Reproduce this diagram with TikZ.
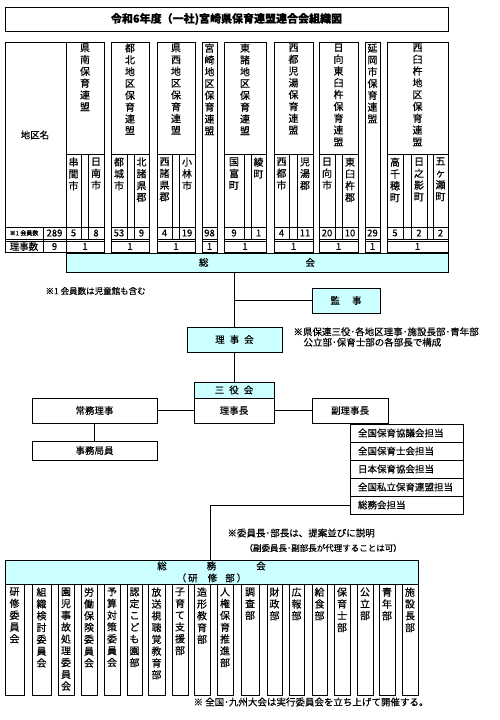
\documentclass[tikz,border=0pt]{standalone}
\usepackage{fontspec}
\setmainfont{Noto Sans CJK JP}[FakeBold=0.4]
\definecolor{kaiCyan}{RGB}{204,255,255}

\begin{document}
\begin{tikzpicture}[x=1pt, y=-1pt, line width=1pt,
  font=\fontsize{9.5}{11.8}\selectfont,
  bx/.style={draw, inner sep=0pt, minimum height=25pt},
  hd/.style={bx, fill=kaiCyan},
  vt/.style={anchor=north, align=center, inner sep=0pt, font=\fontsize{10}{11.8}\selectfont},
  nm/.style={inner sep=0pt, font=\fontsize{9.5}{10}\selectfont},
  note/.style={anchor=west, inner sep=0pt, align=left}]

  \useasboundingbox (0,0) rectangle (500,720);

  % title
  \node[bx, minimum width=443pt, minimum height=24pt,
        font=\fontsize{11}{13}\selectfont\bfseries] (title) at (226.5,19)
    {令和6年度（一社)宮崎県保育連盟連合会組織図};

  % head column of the table
  \draw (5,42) rectangle (66,252);
  \draw (5,227) -- (66,227) (5,239) -- (66,239) (5,241) -- (66,241) (43,227) -- (43,252);
  \node (chiku) at (35,135) {地区名};
  \node[inner sep=0pt, font=\fontsize{6}{6}\selectfont] (kaiinLbl) at (24,233) {※1 会員数};
  \node[nm] (kaiinAll) at (54.5,233) {289};
  \node[inner sep=0pt] (rijiLbl) at (24,246.5) {理事数};
  \node[nm] (rijiAll) at (54.5,246.5) {9};

  % districts
  \foreach \xa/\xb/\nm [count=\i] in {
    66/104/県\\南\\保\\育\\連\\盟,
    111/149/都\\北\\地\\区\\保\\育\\連\\盟,
    157/195/県\\西\\地\\区\\保\\育\\連\\盟,
    202/217/宮\\崎\\地\\区\\保\\育\\連\\盟,
    224/266/東\\諸\\地\\区\\保\\育\\連\\盟,
    274/313/西\\都\\児\\湯\\保\\育\\連\\盟,
    319/358/日\\向\\東\\臼\\杵\\保\\育\\連\\盟,
    365/380/延\\岡\\市\\保\\育\\連\\盟,
    387/448/西\\臼\\杵\\地\\区\\保\\育\\連\\盟}{
    \draw (\xa,42) rectangle (\xb,252);
    \draw (\xa,227) -- (\xb,227) (\xa,239) -- (\xb,239) (\xa,241) -- (\xb,241);
    \node[vt] (dist\i) at ({(\xa+\xb)/2},43) {\nm};
    \node[nm] (riji\i) at ({(\xa+\xb)/2},246.5) {1};
  }
  \foreach \xa/\xb in {66/104,111/149,157/195,224/266,274/313,319/358,387/448}
    \draw (\xa,154) -- (\xb,154);

  % towns and members
  \foreach \xa/\xb/\nm/\mb [count=\i] in {
    66/81/串\\間\\市/5,
    88/104/日\\南\\市/8,
    111/127/都\\城\\市/53,
    134/149/北\\諸\\県\\郡/9,
    157/172/西\\諸\\県\\郡/4,
    179/195/小\\林\\市/19,
    224/244/国\\富\\町/9,
    251/266/綾\\町/1,
    274/289/西\\都\\市/4,
    297/313/児\\湯\\郡/11,
    319/335/日\\向\\市/20,
    342/358/東\\臼\\杵\\郡/10,
    387/403/高\\千\\穂\\町/5,
    411/427/日\\之\\影\\町/2,
    433/448/五\\ヶ\\瀬\\町/2}{
    \draw (\xa,154) rectangle (\xb,239);
    \node[vt] (town\i) at ({(\xa+\xb)/2},157) {\nm};
    \node[nm] (kaiin\i) at ({(\xa+\xb)/2},233) {\mb};
  }
  \node[nm] (kaiinMiya) at (209.5,233) {98};
  \node[nm] (kaiinNobe) at (372.5,233) {29};

  % general meeting and board
  \node[hd, minimum width=382pt, minimum height=19pt] (soukai) at (257,262.5) {総\hspace{97pt}会};
  \node[note, font=\fontsize{8.5}{10}\selectfont] (noteKaiin) at (45,291) {※1 会員数は児童館も含む};
  \node[hd, minimum width=68pt] (kanji) at (346,300.5) {監\hspace{12pt}事};
  \node[hd, minimum width=95pt] (rijikai) at (234.5,339.5) {理\hspace{5pt}事\hspace{5pt}会};
  \node[note, font=\fontsize{9.5}{10.5}\selectfont] (noteRiji) at (293,337)
    {※県保連三役･各地区理事･施設長部･青年部\\\hspace{10pt}公立部･保育士部の各部長で構成};

  \node[hd, minimum width=80pt, minimum height=16pt] (sanyaku) at (234,390) {三\hspace{5pt}役\hspace{5pt}会};
  \node[bx, minimum width=80pt] (rijicho) at (234,410.5) {理事長};
  \node[bx, minimum width=125pt] (jomu) at (94.5,410.5) {常務理事};
  \node[bx, minimum width=125pt, minimum height=19pt] (jimu) at (94.5,450.5) {事務局員};
  \node[bx, minimum width=76pt] (fukuriji) at (350,410.5) {副理事長};
  \foreach \t [count=\i] in {全国保育協議会担当,全国保育士会担当,日本保育協会担当,全国私立保育連盟担当,総務会担当}
    \node[bx, minimum height=18pt, inner xsep=8pt, text width=97pt, align=left]
      (tanto\i) at (406.5,{415+18*\i}) {\t};

  \draw (rijikai.north) -- (rijikai.north |- soukai.south);
  \draw (kanji.west) -- (kanji.west -| rijikai.north);
  \draw (rijikai.south) -- (rijikai.south |- sanyaku.north);
  \draw (rijicho.west) -- (jomu.east);
  \draw (jomu.south) -- (jimu.north);
  \draw (rijicho.east) -- (fukuriji.west);

  % general affairs meeting
  \node[note] (noteIin1) at (227,533) {※委員長･部長は、提案並びに説明};
  \node[note, font=\fontsize{8.5}{10}\selectfont] (noteIin2) at (244,548) {（副委員長･副部長が代理することは可）};
  \node[hd, minimum width=413pt, minimum height=24pt, align=center,
        font=\fontsize{9.5}{12}\selectfont] (somukai) at (211.5,572)
    {総\hspace{40pt}務\hspace{40pt}会\\（\hspace{2pt}研\hspace{10pt}修\hspace{8pt}部\hspace{2pt}）};
  \coordinate (skTop) at (210,560);
  \draw (tanto5.west) -| (skTop);

  \foreach \xa/\xb/\nm [count=\i] in {
    5/24/研\\修\\委\\員\\会,
    32/51/組\\織\\検\\討\\委\\員\\会,
    58/74/園\\児\\事\\故\\処\\理\\委\\員\\会,
    81/97/労\\働\\保\\険\\委\\員\\会,
    104/120/予\\算\\対\\策\\委\\員\\会,
    127/142/認\\定\\こ\\ど\\も\\園\\部,
    148/165/放\\送\\視\\聴\\覚\\教\\育\\部,
    172/188/子\\育\\て\\支\\援\\部,
    194/210/造\\形\\教\\育\\部,
    217/233/人\\権\\保\\育\\推\\進\\部,
    241/259/調\\査\\部,
    267/282/財\\政\\部,
    289/304/広\\報\\部,
    312/327/給\\食\\部,
    334/350/保\\育\\士\\部,
    357/373/公\\立\\部,
    379/395/青\\年\\部,
    402/418/施\\設\\長\\部}{
    \draw (\xa,584) rectangle (\xb,695);
    \node[vt] (iin\i) at ({(\xa+\xb)/2},587) {\nm};
  }

  \node[inner sep=0pt] (noteTaikai) at (311,702) {※ 全国･九州大会は実行委員会を立ち上げて開催する。};

\end{tikzpicture}
\end{document}
